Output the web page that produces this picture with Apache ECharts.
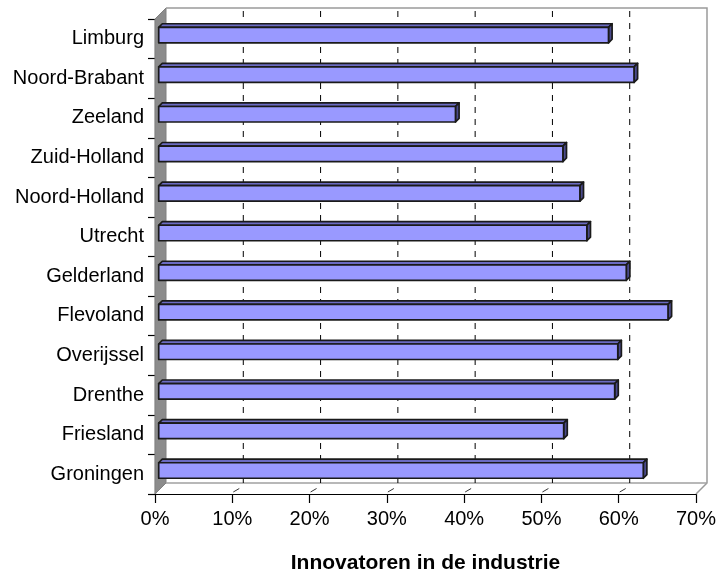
<!DOCTYPE html>
<html>
<head>
<meta charset="utf-8">
<script src="https://cdn.jsdelivr.net/npm/echarts@6/dist/echarts.min.js"></script>
<style>
  html, body { margin: 0; padding: 0; background: #fff; }
  #chart { width: 719px; height: 573px; }
</style>
</head>
<body>
<div id="chart"></div>
<script>
// data, bottom to top (Groningen onderaan)
const provinces = ['Groningen', 'Friesland', 'Drenthe', 'Overijssel', 'Flevoland', 'Gelderland',
  'Utrecht', 'Noord-Holland', 'Zuid-Holland', 'Zeeland', 'Noord-Brabant', 'Limburg'];
const innovators = [62.7, 52.4, 59.0, 59.4, 65.9, 60.5, 55.4, 54.5, 52.3, 38.4, 61.5, 58.2];
const gridValues = [10, 20, 30, 40, 50, 60];

const DEPTH = 11;      // offset of the back wall (px)
const BAR_FRONT = 3.7; // bar front face depth
const BAR_DEPTH = 3.6; // bar thickness in depth
const BAR_H = 15.5;

const chart = echarts.init(document.getElementById('chart'));

// walls, floor and back gridlines
function renderWalls(params, api) {
  const cs = params.coordSys;
  const l = cs.x, t = cs.y, r = cs.x + cs.width, b = cs.y + cs.height;
  const children = [];
  // side wall (grey)
  children.push({
    type: 'polygon',
    shape: { points: [[l, t], [l + DEPTH, t - DEPTH], [l + DEPTH, b - DEPTH], [l, b]] },
    style: { fill: '#8c8c8c', stroke: '#808080', lineWidth: 1 }
  });
  // back wall outline
  children.push({
    type: 'polyline',
    shape: { points: [[l + DEPTH, t - DEPTH], [r + DEPTH, t - DEPTH], [r + DEPTH, b - DEPTH], [r, b]] },
    style: { fill: null, stroke: '#9a9a9a', lineWidth: 1.5 }
  });
  // floor back edge
  children.push({
    type: 'line',
    shape: { x1: l + DEPTH, y1: b - DEPTH, x2: r + DEPTH, y2: b - DEPTH },
    style: { stroke: '#a0a0a0', lineWidth: 1.5 }
  });
  gridValues.forEach(function (v) {
    const x = api.coord([v, 0])[0];
    children.push({
      type: 'line',
      shape: { x1: x + DEPTH, y1: t - DEPTH + 3, x2: x + DEPTH, y2: b - DEPTH },
      style: { stroke: '#000', lineWidth: 1, lineDash: [6, 6] }
    });
    children.push({
      type: 'line',
      shape: { x1: x + 1, y1: b - 2, x2: x + 7, y2: b - 5.5 },
      style: { stroke: '#333', lineWidth: 1 }
    });
  });
  return { type: 'group', children: children };
}

function renderBar(params, api) {
  const v = api.value(0);
  const c = api.coord([v, api.value(1)]);
  const x0 = api.coord([0, api.value(1)])[0] + BAR_FRONT;
  const x1 = c[0] + BAR_FRONT;
  const yc = c[1] - BAR_FRONT;
  const yt = yc - BAR_H / 2, yb = yc + BAR_H / 2;
  const d = BAR_DEPTH;
  const edge = { stroke: '#1a1a1a', lineWidth: 1.7, lineJoin: 'round' };
  return {
    type: 'group',
    children: [
      { type: 'polygon', shape: { points: [[x0, yt], [x1, yt], [x1 + d, yt - d], [x0 + d, yt - d]] },
        style: Object.assign({ fill: '#6b6bc2' }, edge) },
      { type: 'polygon', shape: { points: [[x1, yt], [x1 + d, yt - d], [x1 + d, yb - d], [x1, yb]] },
        style: Object.assign({ fill: '#4a4a8c' }, edge) },
      { type: 'rect', shape: { x: x0, y: yt, width: x1 - x0, height: BAR_H },
        style: Object.assign({ fill: '#9999ff' }, edge) }
    ]
  };
}

chart.setOption({
  animation: false,
  grid: { left: 155, right: 23, top: 19, bottom: 79, outerBoundsMode: 'none', containLabel: false },
  xAxis: {
    type: 'value',
    min: 0, max: 70, interval: 10,
    name: 'Innovatoren in de industrie',
    nameLocation: 'middle',
    nameGap: 59,
    nameTextStyle: { fontFamily: 'Liberation Sans', fontSize: 21, fontWeight: 'bold', color: '#000' },
    axisLine: { show: true, lineStyle: { color: '#000', width: 1.2 } },
    axisTick: { show: true, length: 9, lineStyle: { color: '#000', width: 1.2 } },
    axisLabel: { formatter: '{value}%', margin: 15, fontFamily: 'Liberation Sans', fontSize: 20, color: '#000' },
    splitLine: { show: false }
  },
  yAxis: {
    type: 'category',
    data: provinces,
    axisLine: { show: true, lineStyle: { color: '#000', width: 1.2 } },
    axisTick: { show: true, length: 7, lineStyle: { color: '#000', width: 1.2 } },
    axisLabel: { margin: 11, fontFamily: 'Liberation Sans', fontSize: 20, color: '#000' }
  },
  series: [
    {
      type: 'custom',
      renderItem: renderWalls,
      data: [[0, 0]],
      z: 1,
      silent: true
    },
    {
      type: 'custom',
      renderItem: renderBar,
      encode: { x: 0, y: 1 },
      data: innovators.map(function (v, i) { return [v, i]; }),
      z: 2
    }
  ]
});
</script>
</body>
</html>
